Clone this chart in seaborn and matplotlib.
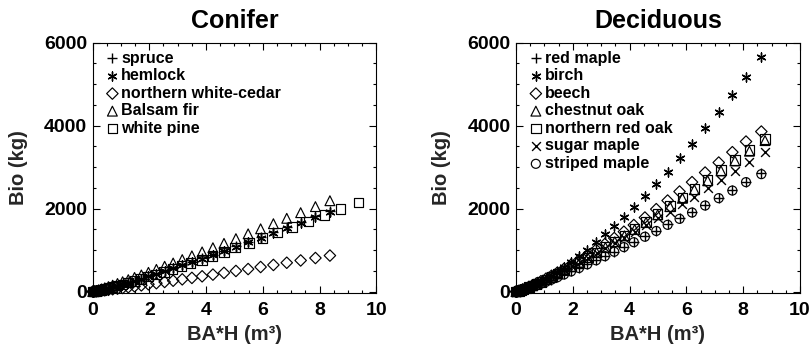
import matplotlib
matplotlib.use("Agg")
import matplotlib.pyplot as plt
import pandas as pd
import seaborn as sns
from matplotlib.ticker import MultipleLocator

# ---------------- data ----------------
panel_titles = ["Conifer", "Deciduous"]
x_label = "BA*H (m³)"
y_label = "Bio (kg)"
x_ticks = [0, 2, 4, 6, 8, 10]
y_ticks = [0, 2000, 4000, 6000]

# Conifer
conifer_x = [0.01, 0.035, 0.08, 0.14, 0.22, 0.32, 0.43, 0.56, 0.71, 0.88, 1.06, 1.26,
             1.48, 1.72, 1.97, 2.25, 2.54, 2.84, 3.16, 3.50, 3.86, 4.24, 4.63, 5.05,
             5.48, 5.92, 6.37, 6.84, 7.33, 7.85, 8.36]
spruce = [0.85, 3.6, 9.3, 18, 30, 45, 65, 87, 114, 146, 182, 221, 267, 316, 370, 431,
          496, 564, 637, 716, 802, 894, 989, 1093, 1200, 1311, 1427, 1548, 1677, 1814, 1948]
hemlock = [0.84, 3.6, 9.2, 17.5, 29.5, 45, 64, 86, 113, 145, 180, 219, 264, 313, 366, 427,
           491, 558, 631, 709, 794, 885, 979, 1082, 1188, 1298, 1413, 1533, 1660, 1796, 1929]
white_cedar = [0.51, 2.0, 5.1, 9.4, 15.6, 23.5, 32.6, 43.7, 57, 72, 88, 107, 128, 151, 176,
               203, 233, 263, 296, 331, 369, 410, 452, 498, 544, 593, 643, 696, 751, 810, 869]
balsam_fir = [1.6, 6.2, 15.0, 27.3, 44, 66, 91, 121, 156, 196, 239, 288, 342, 402, 465, 536,
              611, 689, 772, 862, 957, 1058, 1163, 1277, 1393, 1514, 1637, 1767, 1903, 2049, 2191]
white_pine_x = [0.01, 0.035, 0.08, 0.14, 0.22, 0.31, 0.43, 0.56, 0.71, 0.87, 1.05, 1.25,
                1.47, 1.71, 1.96, 2.23, 2.52, 2.82, 3.14, 3.46, 3.85, 4.23, 4.63, 5.02,
                5.51, 5.99, 6.51, 7.05, 7.61, 8.16, 8.74, 9.36]
white_pine = [0.85, 3.6, 9.2, 17.5, 29.3, 43.4, 63, 85, 112, 142, 176, 214, 258, 307, 358,
              416, 478, 544, 615, 687, 766, 863, 959, 1063, 1169, 1289, 1424, 1554, 1689,
              1843, 1988, 2147]

# Deciduous
decid_x_a = [0.002, 0.017, 0.048, 0.096, 0.16, 0.24, 0.34, 0.45, 0.58, 0.72, 0.88, 1.06,
             1.25, 1.46, 1.69, 1.94, 2.22, 2.51, 2.82, 3.13, 3.46, 3.80, 4.15, 4.54, 4.94,
             5.34, 5.76, 6.20, 6.66, 7.14, 7.62, 8.10, 8.64]
decid_x_b = [0.002, 0.018, 0.05, 0.10, 0.17, 0.25, 0.35, 0.46, 0.59, 0.73, 0.89, 1.07,
             1.26, 1.47, 1.70, 1.96, 2.24, 2.53, 2.84, 3.15, 3.48, 3.82, 4.18, 4.58, 4.99,
             5.42, 5.86, 6.28, 6.75, 7.22, 7.71, 8.22, 8.77]
red_maple = [0.15, 1.8, 6.3, 14.1, 25.8, 41.6, 62.8, 87.3, 118, 152, 192, 240, 291, 349, 416,
             489, 573, 662, 760, 860, 967, 1080, 1199, 1331, 1471, 1620, 1765, 1918, 2088,
             2266, 2450, 2654, 2847]
birch = [0.05, 0.99, 4.2, 10.9, 22.2, 39, 63, 93, 133, 179, 237, 307, 386, 478, 586, 710,
         856, 1015, 1193, 1379, 1585, 1805, 2040, 2311, 2598, 2895, 3215, 3561, 3933, 4332,
         4742, 5162, 5645]
beech = [0.17, 2.25, 7.8, 17.8, 32.8, 53.2, 80.7, 113, 153, 198, 251, 314, 382, 460, 548,
         647, 760, 880, 1011, 1146, 1291, 1444, 1605, 1786, 1988, 2195, 2412, 2639, 2870,
         3111, 3361, 3617, 3858]
chestnut_oak = [0.16, 2.2, 7.3, 17, 32, 51, 76, 106, 142, 184, 234, 292, 354, 426, 509, 603,
                708, 819, 941, 1066, 1202, 1344, 1497, 1668, 1852, 2050, 2250, 2456, 2672,
                2910, 3150, 3385, 3640]
northern_red_oak = [0.16, 2.2, 7.4, 17.1, 32.3, 51.3, 76.8, 107, 144, 186, 236, 294, 357,
                    430, 513, 608, 714, 826, 949, 1075, 1212, 1355, 1510, 1682, 1867, 2067,
                    2267, 2477, 2694, 2935, 3176, 3417, 3675]
sugar_maple = [0.23, 2.8, 9.1, 20.2, 37.1, 57.7, 84.7, 116, 154, 197, 247, 304, 367, 438,
               517, 608, 708, 814, 929, 1046, 1173, 1304, 1446, 1610, 1771, 1930, 2108, 2292,
               2494, 2694, 2911, 3135, 3376]
striped_maple = [0.15, 1.8, 6.2, 14.0, 25.6, 41.3, 62.3, 86.7, 117, 151, 191, 238, 289, 347,
                 413, 486, 569, 658, 755, 854, 961, 1073, 1191, 1323, 1462, 1610, 1754, 1906,
                 2075, 2253, 2436, 2639, 2831]

ASTER = (6, 2, 0)
conifer_series = [
    ("spruce", conifer_x, spruce, "+"),
    ("hemlock", conifer_x, hemlock, ASTER),
    ("northern white-cedar", conifer_x, white_cedar, "D"),
    ("Balsam fir", conifer_x, balsam_fir, "^"),
    ("white pine", white_pine_x, white_pine, "s"),
]
decid_series = [
    ("red maple", decid_x_a, red_maple, "+"),
    ("birch", decid_x_a, birch, ASTER),
    ("beech", decid_x_a, beech, "D"),
    ("chestnut oak", decid_x_b, chestnut_oak, "^"),
    ("northern red oak", decid_x_b, northern_red_oak, "s"),
    ("sugar maple", decid_x_b, sugar_maple, "x"),
    ("striped maple", decid_x_a, striped_maple, "o"),
]

# ---------------- style ----------------
sns.set_theme(style="ticks")
plt.rcParams["font.family"] = ["Liberation Sans", "DejaVu Sans"]
plt.rcParams["font.weight"] = "bold"
plt.rcParams["axes.labelweight"] = "bold"
plt.rcParams["axes.titleweight"] = "bold"
plt.rcParams["axes.edgecolor"] = "black"
plt.rcParams["axes.linewidth"] = 0.8
plt.rcParams["text.color"] = "black"
plt.rcParams["xtick.color"] = "black"
plt.rcParams["ytick.color"] = "black"

sizes = {"+": 45, ASTER: 42, "D": 34, "^": 50, "s": 46, "x": 40, "o": 42}

fig = plt.figure(figsize=(8.1, 3.45), dpi=100)
ax1 = fig.add_axes([0.1142, 0.1499, 0.3506, 0.7264])
ax2 = fig.add_axes([0.6370, 0.1499, 0.3506, 0.7264])

for ax, title, series in [(ax1, panel_titles[0], conifer_series),
                          (ax2, panel_titles[1], decid_series)]:
    for label, xs, ys, mk in series:
        df = pd.DataFrame({"x": xs, "y": ys})
        mstyle = matplotlib.markers.MarkerStyle(mk)
        if mstyle.is_filled():
            sns.scatterplot(data=df, x="x", y="y", ax=ax, marker=mk, s=sizes[mk],
                            facecolor="none", edgecolor="black", linewidth=0.85,
                            label=label, clip_on=False, zorder=3)
        else:
            sns.scatterplot(data=df, x="x", y="y", ax=ax, marker=mk, s=sizes[mk],
                            color="black", linewidth=1.0,
                            label=label, clip_on=False, zorder=3)
    ax.set_xlim(0, 10)
    ax.set_ylim(-40, 6000)
    ax.set_xticks(x_ticks)
    ax.set_yticks(y_ticks)
    ax.xaxis.set_minor_locator(MultipleLocator(0.5))
    ax.yaxis.set_minor_locator(MultipleLocator(500))
    ax.tick_params(which="both", direction="in", top=True, right=True, width=0.8)
    ax.tick_params(which="major", length=5, labelsize=14)
    ax.tick_params(which="minor", length=2.5)
    ax.tick_params(axis="x", which="major", pad=6.5)
    ax.tick_params(axis="y", which="major", pad=4)
    for sp in ax.spines.values():
        sp.set_visible(True)
        sp.set_linewidth(0.8)
    ax.set_xlabel(x_label, fontsize=14.5, fontweight="bold", va="center")
    ax.set_ylabel(y_label, fontsize=14.5, fontweight="bold", va="center")
    ax.xaxis.set_label_coords(0.5, -0.165)
    ax.yaxis.set_label_coords(-0.262, 0.5)
    ax.set_title(title, fontsize=18, fontweight="bold", y=1.088, pad=0, va="center")
    ax.grid(False)
    ax.legend(loc="upper left", bbox_to_anchor=(0.025, 1.0), frameon=False,
              handlelength=0.6, handletextpad=0.25, labelspacing=0.16,
              borderaxespad=0.2, borderpad=0.3, scatterpoints=1,
              prop={"size": 11.5, "weight": "bold"})

fig.savefig("out.png", dpi=100)
